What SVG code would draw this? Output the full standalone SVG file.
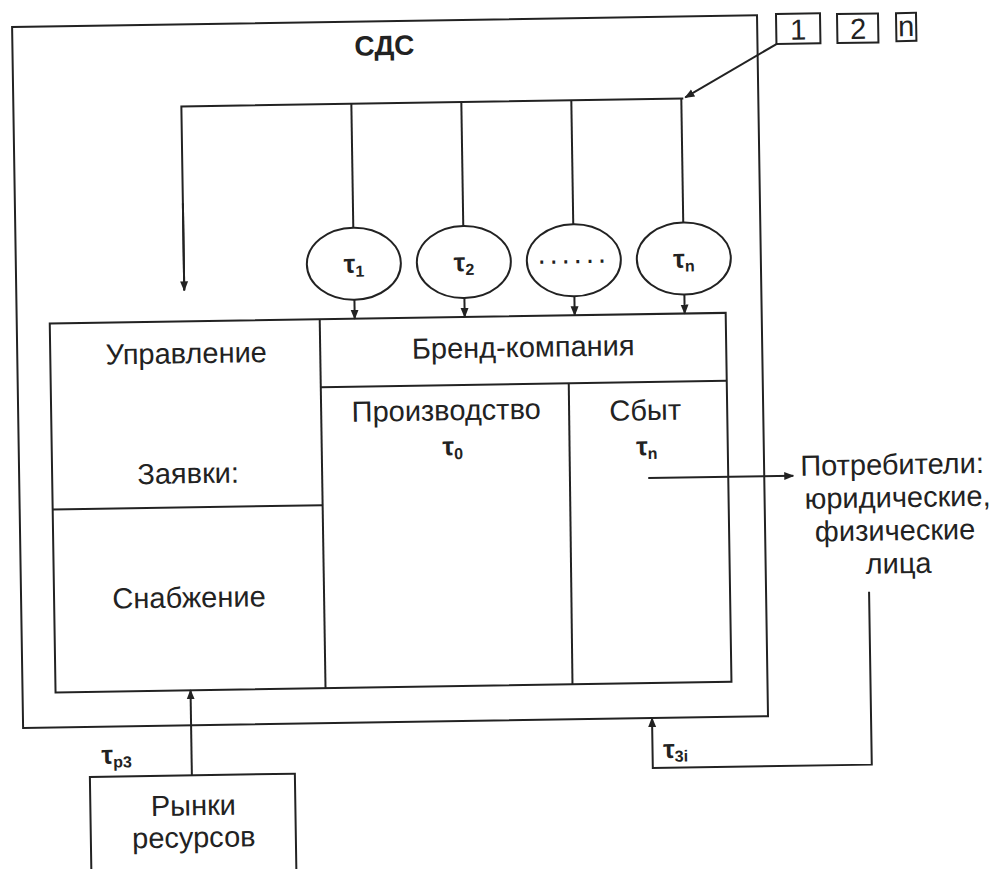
<svg xmlns="http://www.w3.org/2000/svg" width="990" height="869" viewBox="0 0 990 869">
<defs>
<marker id="ah" markerWidth="10" markerHeight="10" refX="9" refY="5" orient="auto" markerUnits="userSpaceOnUse">
<path d="M0,1 L10,5 L0,9 Z" fill="#222"/>
</marker>
<style>
.ln{fill:none;stroke:#222;stroke-width:2}
.t{font-family:"Liberation Sans",Arial,sans-serif;font-size:29px;fill:#222;text-anchor:middle}
.b{font-family:"Liberation Sans",Arial,sans-serif;font-weight:bold;fill:#222;text-anchor:middle}
</style>
</defs>
<rect width="990" height="869" fill="#fff"/>
<g transform="rotate(-0.9 400 400)">
<g id="sds">
<rect class="ln" x="18" y="21" width="745" height="701"/>
<text class="b" x="390" y="55" font-size="28">СДС</text>
</g>
<g id="labels-1-2-n">
<rect class="ln" x="782" y="20" width="44" height="30"/>
<text class="t" x="804" y="46" font-size="26">1</text>
<rect class="ln" x="843" y="21" width="41" height="29"/>
<text class="t" x="864" y="46" font-size="26">2</text>
<rect class="ln" x="902" y="21" width="20" height="28"/>
<text class="t" x="912" y="44" font-size="30">n</text>
</g>
<g id="tau1"><ellipse class="ln" cx="356" cy="263" rx="47" ry="36"/><text class="b" x="356" y="272" font-size="26">τ<tspan font-size="16" dy="4">1</tspan></text></g>
<g id="tau2"><ellipse class="ln" cx="466" cy="263" rx="47" ry="36"/><text class="b" x="466" y="272" font-size="26">τ<tspan font-size="16" dy="4">2</tspan></text></g>
<g id="taudots"><ellipse class="ln" cx="576" cy="263" rx="47" ry="36"/><text class="t" x="576" y="266" font-size="16" letter-spacing="4">......</text></g>
<g id="taun"><ellipse class="ln" cx="686" cy="263" rx="47" ry="36"/><text class="b" x="686" y="272" font-size="26">τ<tspan font-size="16" dy="4">n</tspan></text></g>
<g id="main">
<rect class="ln" x="51" y="318" width="676" height="369"/>
<line class="ln" x1="321" y1="318" x2="321" y2="687"/>
<line class="ln" x1="51" y1="504" x2="321" y2="504"/>
<line class="ln" x1="321" y1="386" x2="727" y2="386"/>
<line class="ln" x1="569" y1="386" x2="568" y2="687"/>
<text class="t" x="187" y="360">Управление</text>
<text class="t" x="187" y="480">Заявки:</text>
<text class="t" x="186" y="604">Снабжение</text>
<text class="t" x="524" y="359">Бренд-компания</text>
<text class="t" x="446" y="421">Производство</text>
<text class="b" x="452" y="456" font-size="26">τ<tspan font-size="16" dy="4">0</tspan></text>
<text class="t" x="645" y="424">Сбыт</text>
<text class="b" x="646" y="459" font-size="26">τ<tspan font-size="16" dy="4">n</tspan></text>
</g>
<g id="consumers">
<text class="t" x="891" y="482">Потребители:</text>
<text class="t" x="896" y="515">юридические,</text>
<text class="t" x="893" y="548">физические</text>
<text class="t" x="896" y="581">лица</text>
</g>
<g id="markets">
<rect class="ln" x="84" y="772" width="205" height="110"/>
<text class="t" x="187" y="812">Рынки</text>
<text class="t" x="187" y="844">ресурсов</text>
</g>
<g id="connectors">
<polyline class="ln" points="186,287 186,103 688,103"/>
<line class="ln" x1="186" y1="200" x2="186" y2="287" marker-end="url(#ah)"/>
<line class="ln" x1="356" y1="103" x2="356" y2="227"/>
<line class="ln" x1="466" y1="103" x2="466" y2="227"/>
<line class="ln" x1="576" y1="103" x2="576" y2="227"/>
<line class="ln" x1="686" y1="103" x2="686" y2="227"/>
<line class="ln" x1="782" y1="50" x2="690" y2="102" marker-end="url(#ah)"/>
<line class="ln" x1="356" y1="299" x2="356" y2="318" marker-end="url(#ah)"/>
<line class="ln" x1="466" y1="299" x2="466" y2="318" marker-end="url(#ah)"/>
<line class="ln" x1="576" y1="299" x2="576" y2="318" marker-end="url(#ah)"/>
<line class="ln" x1="686" y1="299" x2="686" y2="318" marker-end="url(#ah)"/>
<line class="ln" x1="647" y1="482" x2="792" y2="482" marker-end="url(#ah)"/>
<polyline class="ln" points="866,599 866,772 647,772 647,722" marker-end="url(#ah)"/>
<line class="ln" x1="186" y1="772" x2="186" y2="687" marker-end="url(#ah)"/>
<text class="b" x="670" y="762" font-size="26">τ<tspan font-size="16" dy="4">3i</tspan></text>
<text class="b" x="111" y="759" font-size="26">τ<tspan font-size="16" dy="4">р3</tspan></text>
</g>
</g>
</svg>
